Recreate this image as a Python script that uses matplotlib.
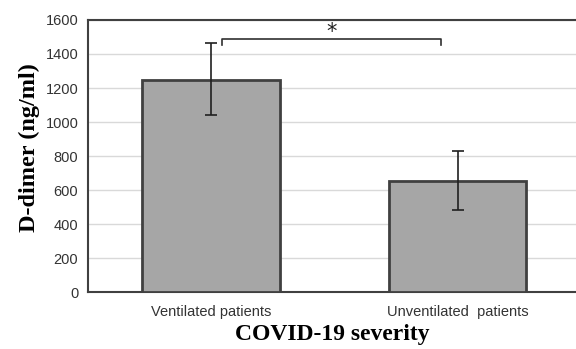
import matplotlib
matplotlib.use("Agg")
import matplotlib.pyplot as plt

categories = ["Ventilated patients", "Unventilated  patients"]
means = [1250, 655]
err_low = [208, 175]
err_high = [212, 175]
yticks = [0, 200, 400, 600, 800, 1000, 1200, 1400, 1600]

fig = plt.figure(figsize=(5.76, 3.49), dpi=100)
ax = fig.add_axes([0.1528, 0.1633, 0.8472, 0.7794])

x = list(range(len(categories)))
ax.bar(x, means, width=0.555, color="#a6a6a6", edgecolor="#404040", linewidth=2, zorder=3)
ax.errorbar(x, means, yerr=[err_low, err_high], fmt="none", ecolor="#202020",
            elinewidth=1.2, capsize=4, capthick=1.2, zorder=4)

ax.set_xlim(-0.498, 1.478)
ax.set_ylim(0, 1600)
ax.set_yticks(yticks)
ax.set_xticks(x)
ax.set_xticklabels(categories, family="Liberation Sans", fontsize=10.5, color="#333333")
for lab in ax.get_yticklabels():
    lab.set_family("Liberation Sans")
    lab.set_fontsize(10.5)
    lab.set_color("#333333")
ax.tick_params(axis="y", length=0, pad=7)
ax.tick_params(axis="x", length=0, pad=9)
ax.grid(axis="y", color="#d9d9d9", linewidth=1, zorder=0)

for s in ["top", "left", "bottom"]:
    ax.spines[s].set_color("#404040")
    ax.spines[s].set_linewidth(1.5)
ax.spines["right"].set_visible(False)

ax.set_ylabel("D-dimer (ng/ml)", family="Liberation Serif", fontweight="bold", fontsize=17.5, labelpad=4)
ax.yaxis.label.set_y(0.53)
ax.set_xlabel("COVID-19 severity", family="Liberation Serif", fontweight="bold", fontsize=17, labelpad=4)

# significance bracket
bx0, bx1, by, bh = 0.045, 0.93, 1490, 35
ax.plot([bx0, bx0, bx1, bx1], [by - bh, by, by, by - bh], color="#303030", linewidth=1.2, zorder=5, clip_on=False)
ax.text((bx0 + bx1) / 2, 1530, "*", ha="center", va="center", fontsize=15, color="#202020")

fig.savefig("out.png", dpi=100)
